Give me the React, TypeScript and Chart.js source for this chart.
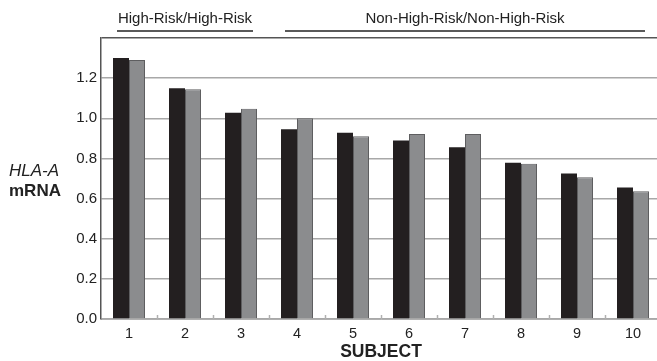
import React, { useEffect, useRef } from "react";
import { Chart, registerables } from "chart.js";

Chart.register(...registerables);

const subjects = ["1", "2", "3", "4", "5", "6", "7", "8", "9", "10"];
const seriesBlack = [1.30, 1.15, 1.027, 0.945, 0.928, 0.889, 0.856, 0.778, 0.725, 0.655];
const seriesGray = [1.29, 1.145, 1.047, 1.0, 0.91, 0.922, 0.922, 0.774, 0.706, 0.637];
const yTicks = [0, 0.2, 0.4, 0.6, 0.8, 1.0, 1.2, 1.4];
const groups = [
  { label: "High-Risk/High-Risk", from: 0, to: 2 },
  { label: "Non-High-Risk/Non-High-Risk", from: 3, to: 9 },
];

const FONT = "'Liberation Sans', Arial, Helvetica, sans-serif";

const overlayPlugin = {
  id: "overlay",
  afterDraw(chart: any) {
    const { ctx, chartArea, scales } = chart;
    const x = scales.x;
    ctx.save();
    const w = (chartArea.right - chartArea.left) / subjects.length;
    ctx.strokeStyle = "#b0b0b0";
    ctx.lineWidth = 1.5;
    for (let i = 1; i < subjects.length; i++) {
      const px = Math.round(chartArea.left + i * w) + 0.5;
      ctx.beginPath();
      ctx.moveTo(px, chartArea.bottom - 4);
      ctx.lineTo(px, chartArea.bottom);
      ctx.stroke();
    }
    ctx.fillStyle = "#222";
    ctx.strokeStyle = "#222";
    ctx.lineWidth = 1.5;
    ctx.font = `15px ${FONT}`;
    ctx.textAlign = "center";
    ctx.textBaseline = "middle";
    groups.forEach((g) => {
      const x0 = x.getPixelForValue(g.from) - 12;
      const x1 = x.getPixelForValue(g.to) + 12;
      ctx.beginPath();
      ctx.moveTo(x0, 31);
      ctx.lineTo(x1, 31);
      ctx.stroke();
      ctx.fillText(g.label, (x0 + x1) / 2, 19);
    });
    ctx.textAlign = "left";
    ctx.fillStyle = "#222";
    ctx.font = `italic 17px ${FONT}`;
    ctx.fillText("HLA-A", 9, 171);
    ctx.font = `bold 17px ${FONT}`;
    ctx.fillText("mRNA", 9, 191);
    ctx.restore();
  },
};

export default function App() {
  const ref = useRef<HTMLCanvasElement>(null);
  useEffect(() => {
    if (!ref.current) return;
    const chart = new Chart(ref.current, {
      type: "bar",
      data: {
        labels: subjects,
        datasets: [
          {
            data: seriesBlack,
            backgroundColor: "#231f20",
            borderWidth: 0,
            barPercentage: 1,
            categoryPercentage: 32 / 56,
          },
          {
            data: seriesGray,
            backgroundColor: "#8b8c8e",
            borderColor: "#5e5e60",
            borderWidth: 1,
            barPercentage: 1,
            categoryPercentage: 32 / 56,
          },
        ],
      },
      options: {
        animation: false,
        responsive: false,
        maintainAspectRatio: false,
        layout: { padding: { top: 38, left: 0, right: 1, bottom: 0 } },
        plugins: { legend: { display: false }, tooltip: { enabled: false } },
        scales: {
          x: {
            grid: { display: false, drawTicks: false },
            border: { display: true, color: "#b0b0b0", width: 1 },
            ticks: { color: "#222", font: { family: FONT, size: 14.5 }, padding: 6 },
            title: {
              display: true,
              text: "SUBJECT",
              color: "#222",
              font: { family: FONT, size: 17.5, weight: "bold", lineHeight: 1 },
              padding: { top: 0, bottom: 0.5 },
            },
            afterFit: (s: any) => {
              s.height = 42;
            },
          },
          y: {
            min: 0,
            max: 1.4,
            afterBuildTicks: (s: any) => {
              s.ticks = yTicks.map((v) => ({ value: v }));
            },
            ticks: {
              color: "#222",
              font: { family: FONT, size: 15 },
              padding: 4,
              callback: (v: any) => (Math.abs(Number(v) - 1.4) < 1e-6 ? "" : Number(v).toFixed(1)),
            },
            grid: {
              drawTicks: false,
              color: (c: any) => (c.tick && Math.abs(c.tick.value - 1.4) < 1e-6 ? "#555" : "#a8a8a8"),
              lineWidth: 1.5,
            },
            border: { display: true, color: "#555", width: 1.5 },
            afterFit: (s: any) => {
              s.width = 101;
            },
          },
        },
      },
      plugins: [overlayPlugin],
    });
    return () => chart.destroy();
  }, []);
  return (
    <div style={{ position: "fixed", left: 0, top: 0, width: 662, height: 361, background: "#fff" }}>
      <canvas ref={ref} width={662} height={361} style={{ width: 662, height: 361, display: "block" }} />
    </div>
  );
}
